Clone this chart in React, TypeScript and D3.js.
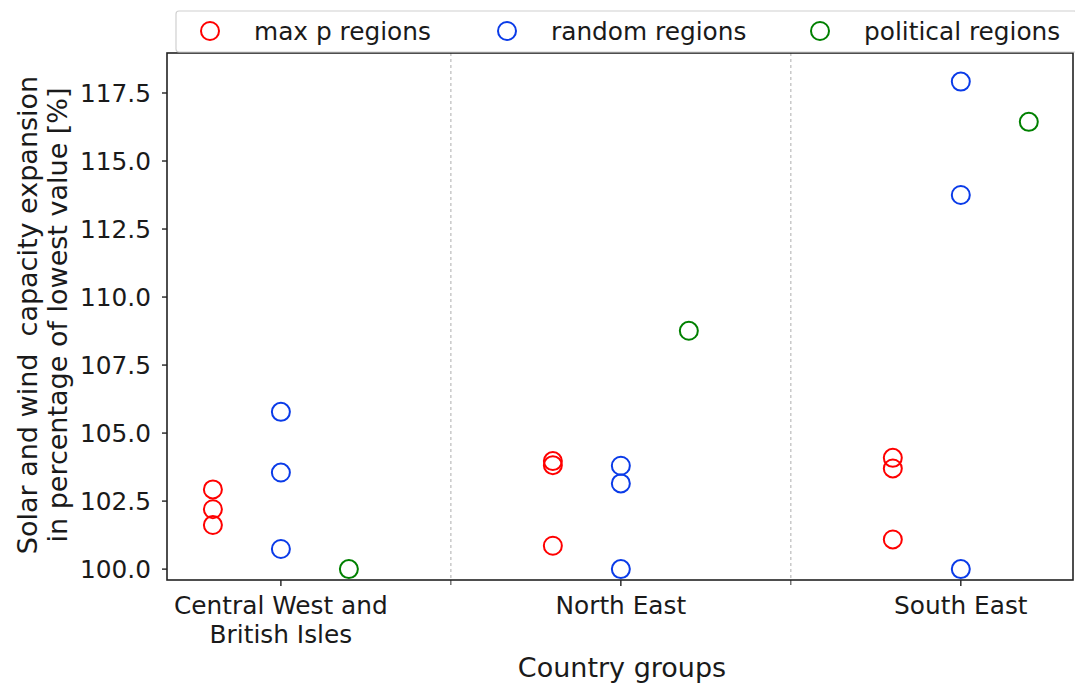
import React from "react";
import * as d3 from "d3";

const categories = ["Central West and\nBritish Isles", "North East", "South East"];
const maxP = [
  [102.93, 102.2, 101.62],
  [103.97, 103.82, 100.86],
  [104.09, 103.7, 101.09],
];
const randomR = [
  [105.78, 103.55, 100.74],
  [103.8, 103.15, 100.0],
  [117.92, 113.75, 100.0],
];
const political = [[100.0], [108.76], [116.44]];
const yTicks = [100.0, 102.5, 105.0, 107.5, 110.0, 112.5, 115.0, 117.5];
const seriesNames = ["max p regions", "random regions", "political regions"];
const seriesColors = ["#ff0000", "#0a3be8", "#008000"];
const offsets = [-0.2, 0, 0.2];

const W = 1075;
const H = 684;
const left = 167;
const right = 1073;
const top = 53;
const bottom = 580;
const FONT = "DejaVu Sans, sans-serif";
const FS = 24.8;
const LFS = 27;

export default function App() {
  const x = d3.scaleLinear().domain([-0.335, 2.33]).range([left, right]);
  const y = d3.scaleLinear().domain([99.6, 118.97]).range([bottom, top]);
  const series = [maxP, randomR, political];
  const seps = [0.5, 1.5];
  return (
    <svg width={W} height={H} style={{ position: "absolute", left: 0, top: 0 }} fontFamily={FONT}>
      <rect x={0} y={0} width={W} height={H} fill="white" />
      {seps.map((s) => (
        <g key={s}>
          <line x1={x(s)} x2={x(s)} y1={top} y2={bottom} stroke="#bbbbbb" strokeWidth={1.2} strokeDasharray="3,3" />
          <line x1={x(s)} x2={x(s)} y1={bottom} y2={bottom + 5} stroke="#333" strokeWidth={1} />
        </g>
      ))}
      {series.map((ser, si) =>
        ser.map((vals, ci) =>
          vals.map((v, k) => (
            <circle
              key={`${si}-${ci}-${k}`}
              cx={x(ci + offsets[si])}
              cy={y(v)}
              r={9}
              fill="none"
              stroke={seriesColors[si]}
              strokeWidth={2}
            />
          ))
        )
      )}
      <rect x={left} y={top} width={right - left} height={bottom - top} fill="none" stroke="#222" strokeWidth={1.6} />
      {yTicks.map((t) => (
        <g key={t}>
          <line x1={left - 5} x2={left} y1={y(t)} y2={y(t)} stroke="#222" strokeWidth={1.4} />
          <text x={left - 16} y={y(t)} dy="0.36em" textAnchor="end" fontSize={FS} fill="#1a1a1a">
            {t.toFixed(1)}
          </text>
        </g>
      ))}
      {categories.map((c, i) => (
        <g key={c}>
          <line x1={x(i)} x2={x(i)} y1={bottom} y2={bottom + 6} stroke="#222" strokeWidth={1.4} />
          {c.split("\n").map((line, j) => (
            <text key={j} x={x(i)} y={614 + j * 29} textAnchor="middle" fontSize={FS} fill="#1a1a1a">
              {line}
            </text>
          ))}
        </g>
      ))}
      <text x={622} y={677} textAnchor="middle" fontSize={LFS} fill="#1a1a1a">
        Country groups
      </text>
      <text
        transform={`translate(37,315) rotate(-90)`}
        textAnchor="middle"
        fontSize={LFS}
        fill="#1a1a1a"
        style={{ whiteSpace: "pre" }}
      >
        {"Solar and wind  capacity expansion"}
      </text>
      <text transform={`translate(67,315) rotate(-90)`} textAnchor="middle" fontSize={LFS} fill="#1a1a1a">
        in percentage of lowest value [%]
      </text>
      <g>
        <rect x={176} y={11} width={right - 176 + 4} height={41} rx={3} fill="white" fillOpacity={0.85} stroke="#d0d0d0" strokeWidth={1.2} />
        {seriesNames.map((n, i) => {
          const cxs = [210, 507, 820];
          return (
            <g key={n}>
              <circle cx={cxs[i]} cy={31} r={9} fill="none" stroke={seriesColors[i]} strokeWidth={2} />
              <text x={cxs[i] + 44} y={31} dy="0.36em" fontSize={FS} fill="#1a1a1a">
                {n}
              </text>
            </g>
          );
        })}
      </g>
    </svg>
  );
}
